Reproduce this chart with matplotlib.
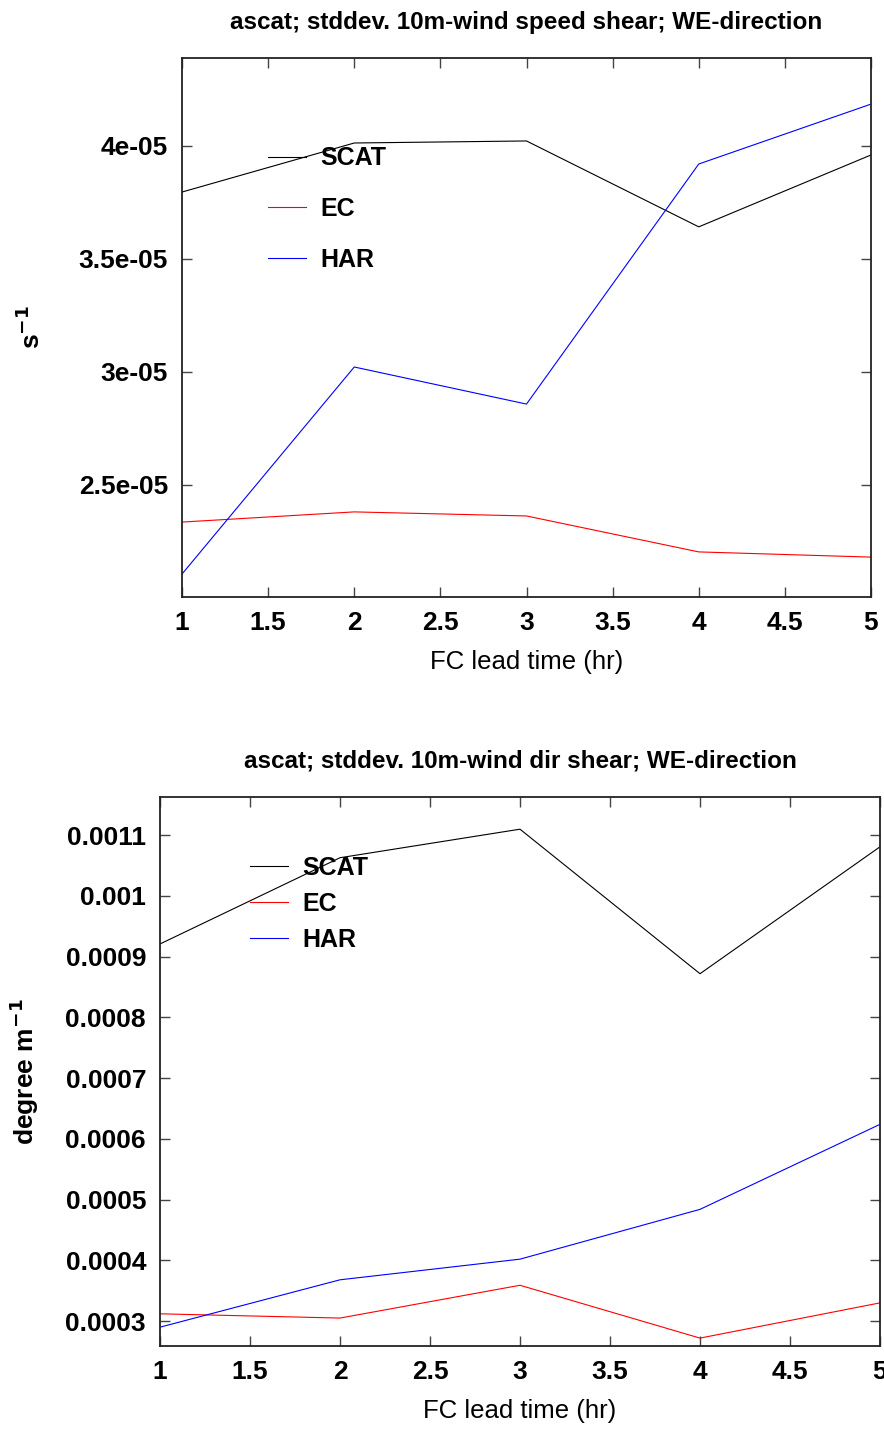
import matplotlib
matplotlib.use("Agg")
import matplotlib.pyplot as plt
from matplotlib.ticker import FuncFormatter

lead_time = [1, 2, 3, 4, 5]
series_names = ["SCAT", "EC", "HAR"]
series_colors = ["black", "red", "blue"]

speed_scat = [3.796e-05, 4.013e-05, 4.022e-05, 3.642e-05, 3.960e-05]
speed_ec = [2.336e-05, 2.381e-05, 2.363e-05, 2.204e-05, 2.181e-05]
speed_har = [2.106e-05, 3.022e-05, 2.858e-05, 3.920e-05, 4.185e-05]

dir_scat = [0.000921, 0.001063, 0.00111, 0.000872, 0.001081]
dir_ec = [0.000312, 0.000305, 0.000359, 0.000272, 0.000330]
dir_har = [0.000290, 0.000368, 0.000402, 0.000484, 0.000624]

speed_yticks = [2.5e-05, 3e-05, 3.5e-05, 4e-05]
dir_yticks = [0.0003, 0.0004, 0.0005, 0.0006, 0.0007, 0.0008, 0.0009, 0.001, 0.0011]
xticks = [1, 1.5, 2, 2.5, 3, 3.5, 4, 4.5, 5]

plt.rcParams['font.family'] = ['Liberation Sans', 'DejaVu Sans']

fig = plt.figure(figsize=(8.84, 14.29), dpi=100)
ax1 = fig.add_axes([182/884, 1 - 597/1429, 689/884, 539/1429])
ax2 = fig.add_axes([160/884, 1 - 1346/1429, 720/884, 549/1429])


def style(ax, yticks, ylim, title, ylabel, data, legend_anchor, labelspacing):
    for vals, name, col in zip(data, series_names, series_colors):
        ax.plot(lead_time, vals, color=col, lw=0.8, label=name)
    ax.set_xlim(1, 5)
    ax.set_ylim(*ylim)
    ax.set_xticks(xticks)
    ax.set_xticklabels([f"{v:g}" for v in xticks])
    ax.set_yticks(yticks)
    ax.yaxis.set_major_formatter(FuncFormatter(lambda v, p: f"{v:g}"))
    ax.tick_params(direction='in', length=7, width=1, top=True, right=True,
                   labelsize=19, pad=10, color='#444444')
    for lab in ax.get_xticklabels() + ax.get_yticklabels():
        lab.set_fontweight('bold')
    for s in ax.spines.values():
        s.set_linewidth(1.3)
        s.set_color('#222222')
    ax.set_title(title, pad=21, fontsize=17.5, fontweight='bold')
    ax.set_xlabel("FC lead time (hr)", fontsize=18.5, labelpad=11)
    ax.set_ylabel(ylabel, fontsize=19, fontweight='bold')
    leg = ax.legend(loc='upper left', bbox_to_anchor=legend_anchor, frameon=False,
                    fontsize=18, handlelength=1.5, handletextpad=0.6,
                    labelspacing=labelspacing, borderaxespad=0, borderpad=0)
    for t in leg.get_texts():
        t.set_fontweight('bold')

style(ax1, speed_yticks, (2.0045e-05, 4.389e-05),
      "ascat; stddev. 10m-wind speed shear; WE-direction", r"s$^{\mathbf{-1}}$",
      [speed_scat, speed_ec, speed_har], (0.125, 0.836), 1.07)
ax1.yaxis.set_label_coords(-0.199, 0.5)

style(ax2, dir_yticks, (0.000259, 0.001163),
      "ascat; stddev. 10m-wind dir shear; WE-direction", r"degree m$^{\mathbf{-1}}$",
      [dir_scat, dir_ec, dir_har], (0.125, 0.893), 0.48)
ax2.yaxis.set_label_coords(-0.165, 0.5)

fig.savefig("out.png", dpi=100)
